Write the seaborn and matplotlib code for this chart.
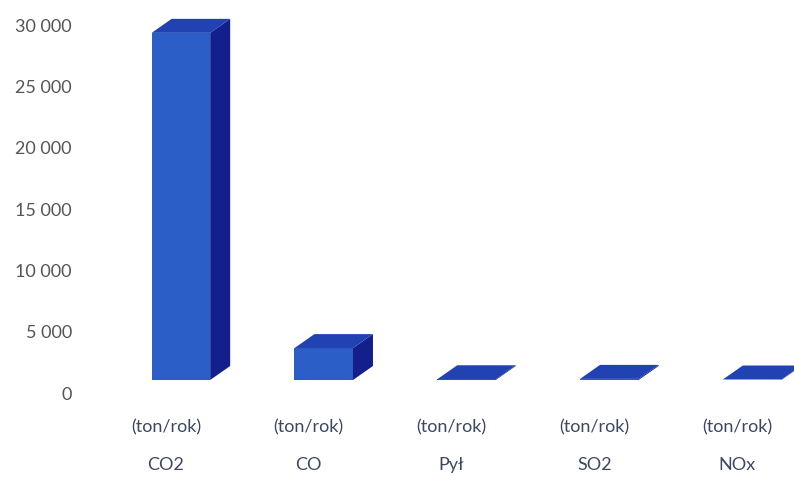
import matplotlib
matplotlib.use('Agg')
import matplotlib.pyplot as plt
from matplotlib.patches import Polygon
from matplotlib.transforms import IdentityTransform, ScaledTranslation
from matplotlib.ticker import FuncFormatter
import pandas as pd
import seaborn as sns

# emissions (front face heights)
categories = ['CO2', 'CO', 'Pył', 'SO2', 'NOx']
unit_labels = ['(ton/rok)'] * 5
values = [28300, 2600, 60, 90, 40]
y_ticks = [0, 5000, 10000, 15000, 20000, 25000, 30000]

FRONT = '#2b5ec6'
TOP = '#2042b2'
SIDE = '#121f8c'
DEPTH = (20, 14)  # px offset of the back face

sns.set_style('white')
plt.rcParams['font.family'] = ['Lato', 'DejaVu Sans']

df = pd.DataFrame({'gas': categories, 'value': values})

fig = plt.figure(figsize=(7.94, 4.78), dpi=100)
ax = fig.add_axes([109.5 / 794, 98 / 478, 714 / 794, 368 / 478])
sns.barplot(data=df, x='gas', y='value', color=FRONT, width=0.41,
            saturation=1, ax=ax, edgecolor='none')
ax.set_xlim(-0.5, 4.5)
ax.set_ylim(0, 30000)

# fake 3D: top and side faces computed from each bar in display space
dx, dy = DEPTH
for p in ax.patches:
    x0, y0 = p.get_x(), p.get_y()
    x1, y1 = x0 + p.get_width(), y0 + p.get_height()
    (ax0, ay0), (ax1, ay1) = ax.transData.transform([(x0, y0), (x1, y1)])
    top = [(ax0, ay1), (ax1, ay1), (ax1 + dx, ay1 + dy), (ax0 + dx, ay1 + dy)]
    side = [(ax1, ay0), (ax1 + dx, ay0 + dy), (ax1 + dx, ay1 + dy), (ax1, ay1)]
    for pts, c in ((side, SIDE), (top, TOP)):
        ax.add_patch(Polygon(pts, closed=True, facecolor=c, edgecolor='none',
                             transform=IdentityTransform(), clip_on=False))

ax.set_yticks(y_ticks)
ax.yaxis.set_major_formatter(FuncFormatter(lambda v, _: f'{int(v):,}'.replace(',', ' ')))
ax.tick_params(axis='y', length=0, pad=27, labelsize=13, labelcolor='#555555')
for lab in ax.get_yticklabels():
    lab.set_transform(lab.get_transform() + ScaledTranslation(0, -0.13, fig.dpi_scale_trans))

ax.set_xticks(range(len(categories)))
ax.set_xticklabels([f'{u}\n{c}' for u, c in zip(unit_labels, categories)],
                   linespacing=2.7)
ax.tick_params(axis='x', length=0, pad=28, labelsize=13, labelcolor='#3f4662')
for lab in ax.get_xticklabels():
    lab.set_transform(lab.get_transform() + ScaledTranslation(-0.15, 0, fig.dpi_scale_trans))

ax.set_xlabel('')
ax.set_ylabel('')
sns.despine(ax=ax, left=True, bottom=True)

fig.savefig('out.png', dpi=100)
